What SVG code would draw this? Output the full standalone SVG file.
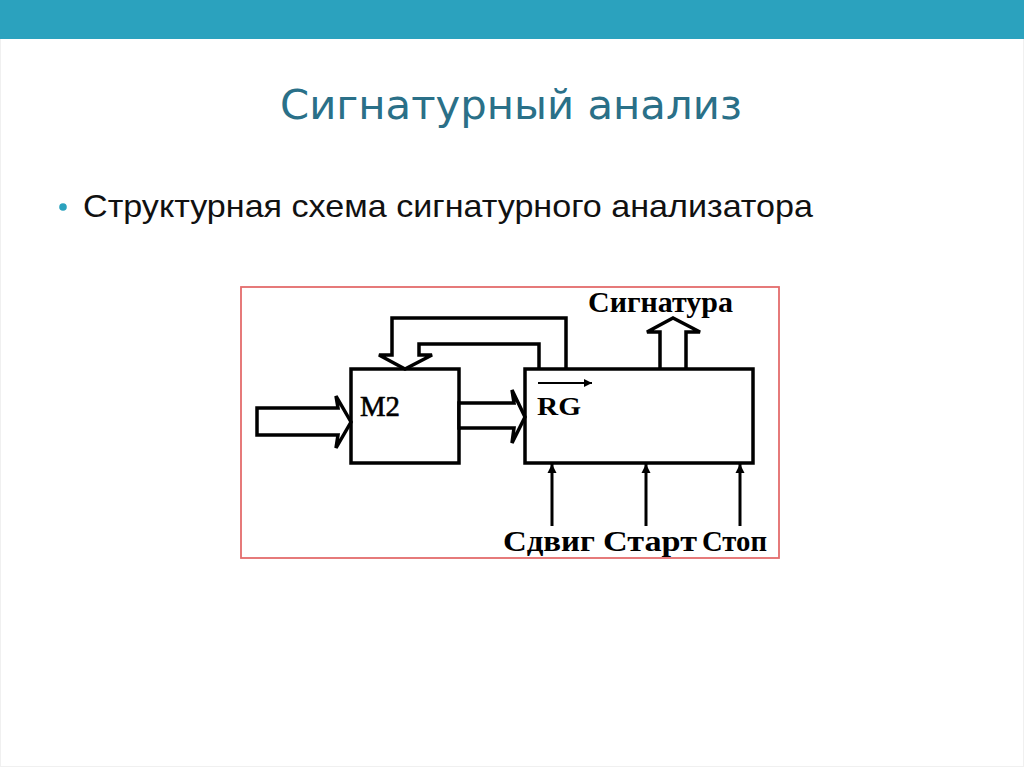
<svg xmlns="http://www.w3.org/2000/svg" width="1024" height="767" viewBox="0 0 1024 767">
  <defs>
    <style>
      .blk { fill: #ffffff; stroke: #000000; stroke-width: 3.5; }
      .wire { fill: none; stroke: #000000; stroke-width: 3.5; stroke-linejoin: miter; }
      .thin { fill: none; stroke: #000000; stroke-width: 3; }
      .lbl { font-family: "Liberation Serif", "Times New Roman", serif; font-weight: bold; fill: #000000; }
    </style>
    <marker id="ah" viewBox="0 0 10 10" refX="10" refY="5" markerWidth="3" markerHeight="3.2" orient="auto" markerUnits="strokeWidth">
      <path d="M0,0 L10,5 L0,10 z" fill="#000000"/>
    </marker>
    <marker id="ah2" viewBox="0 0 10 10" refX="10" refY="5" markerWidth="5" markerHeight="4" orient="auto" markerUnits="strokeWidth">
      <path d="M0,0 L10,5 L0,10 z" fill="#000000"/>
    </marker>
  </defs>

  <rect x="0" y="0" width="1024" height="767" fill="#ffffff"/>
  <rect x="0.5" y="0.5" width="1023" height="766" fill="none" stroke="#f0f0f0" stroke-width="1"/>
  <rect x="0" y="0" width="1024" height="39" fill="#2ba2be"/>

  <text x="280" y="119" font-family="'DejaVu Sans', Verdana, sans-serif" font-size="40" fill="#2a7088" textLength="462" lengthAdjust="spacingAndGlyphs">Сигнатурный анализ</text>

  <circle cx="63" cy="207" r="3.8" fill="#2ba2be"/>
  <text x="83" y="217" font-family="'Liberation Sans', Arial, sans-serif" font-size="32" fill="#111111" textLength="730" lengthAdjust="spacingAndGlyphs">Структурная схема сигнатурного анализатора</text>

  <rect id="frame" x="241" y="287" width="538" height="271" fill="none" stroke="#e46c6c" stroke-width="1.8"/>

  <g id="m2">
    <rect class="blk" x="351" y="369" width="108" height="94"/>
    <text x="360" y="416" font-family="'Liberation Serif', 'Times New Roman', serif" font-size="30" fill="#000000" stroke="#000000" stroke-width="0.6" textLength="40" lengthAdjust="spacingAndGlyphs">M2</text>
  </g>

  <g id="rg">
    <rect class="blk" x="525" y="369" width="228" height="94"/>
    <line x1="538" y1="383" x2="592" y2="383" stroke="#000000" stroke-width="2" marker-end="url(#ah2)"/>
    <text class="lbl" x="537" y="415" font-size="26" textLength="44" lengthAdjust="spacingAndGlyphs">RG</text>
  </g>

  <g id="connectors">
    <polygon class="blk" points="257,408 338,408 336,396 351,422 336,448 338,435 257,435"/>
    <polygon class="blk" points="459,403 514,403 512,390 525,417 512,443 514,428 459,428"/>
    <path class="wire" d="M566 369 V318 H392 V355 H379 L405 369 L432 355 H419 V344 H539 V369"/>
    <path class="wire" d="M660 369 V332 H647 L673 318 L700 332 H686 V369"/>
    <line class="thin" x1="552" y1="526" x2="552" y2="464" marker-end="url(#ah)"/>
    <line class="thin" x1="646" y1="526" x2="646" y2="464" marker-end="url(#ah)"/>
    <line class="thin" x1="740" y1="526" x2="740" y2="464" marker-end="url(#ah)"/>
  </g>

  <g id="labels">
    <text class="lbl" x="588" y="312" font-size="29" textLength="145" lengthAdjust="spacingAndGlyphs">Сигнатура</text>
    <text class="lbl" x="503" y="551" font-size="29" textLength="92" lengthAdjust="spacingAndGlyphs">Сдвиг</text>
    <text class="lbl" x="603" y="551" font-size="29" textLength="94" lengthAdjust="spacingAndGlyphs">Старт</text>
    <text class="lbl" x="702" y="551" font-size="29" textLength="65" lengthAdjust="spacingAndGlyphs">Стоп</text>
  </g>
</svg>
